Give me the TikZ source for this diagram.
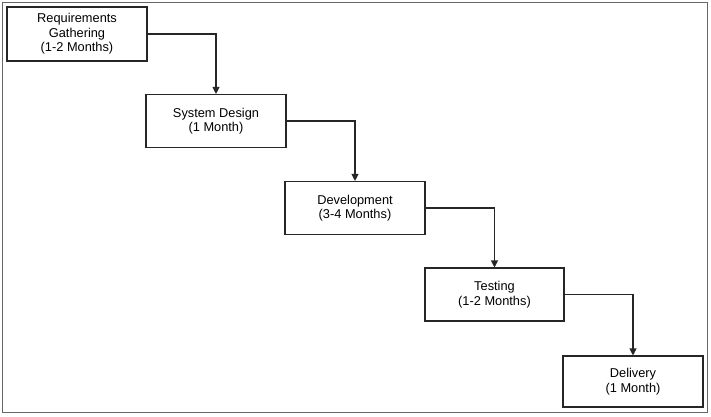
\documentclass[tikz,border=0pt]{standalone}
\usepackage{fontspec}
\setmainfont{Liberation Sans}
\usetikzlibrary{arrows.meta}
\begin{document}
\begin{tikzpicture}[x=1pt,y=-1pt,
  phase/.style={draw=black!85,line width=1.1pt,fill=white,align=center,font=\fontsize{12.8}{14.5}\selectfont},
  flow/.style={draw=black!85,line width=1.1pt,-{Triangle[width=7pt,length=7pt]}}]
\useasboundingbox (0,0) rectangle (711,416);
\draw[black!60,line width=1.2pt] (2.5,2.5) rectangle (707.5,412.5);
\node[phase,minimum width=140pt,minimum height=54pt] (req) at (77,34) {Requirements\\Gathering\\(1-2 Months)};
\node[phase,minimum width=140pt,minimum height=53pt] (sys) at (216,121) {System Design\\(1 Month)};
\node[phase,minimum width=140pt,minimum height=53pt] (dev) at (355,208) {Development\\(3-4 Months)};
\node[phase,minimum width=139pt,minimum height=53pt] (tst) at (494.5,294.5) {Testing\\(1-2 Months)};
\node[phase,minimum width=140pt,minimum height=51pt] (del) at (633,381.5) {Delivery\\(1 Month)};
\draw[flow] (req.east) -| (sys.north);
\draw[flow] (sys.east) -| (dev.north);
\draw[flow] (dev.east) -| (tst.north);
\draw[flow] (tst.east) -| (del.north);
\end{tikzpicture}
\end{document}
